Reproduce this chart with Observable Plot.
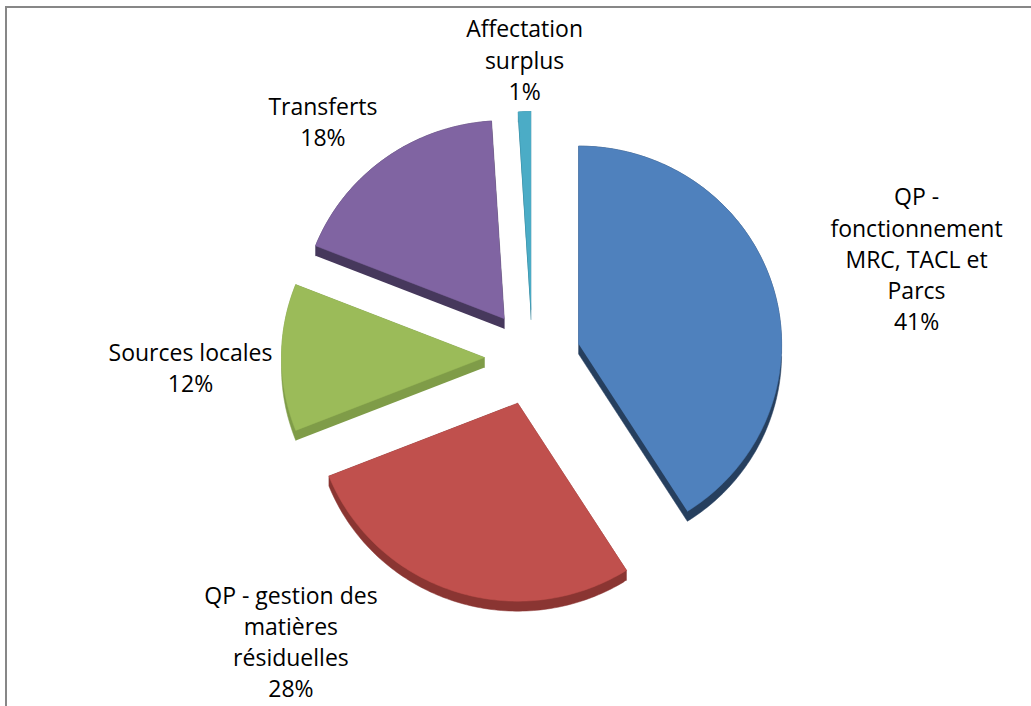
<!DOCTYPE html>
<html><head><meta charset="utf-8">
<script src="https://cdn.jsdelivr.net/npm/d3@7"></script>
<script src="https://cdn.jsdelivr.net/npm/@observablehq/plot@0.6"></script>
<style>
html,body{margin:0;padding:0;background:#fff;overflow:hidden;width:1031px;height:706px}
#frame{position:absolute;left:5px;top:6px;width:1100px;height:800px;border-left:2px solid #878787;border-top:2px solid #878787;box-sizing:border-box}
#chart{position:absolute;left:0;top:0}
</style></head><body>
<div id="frame"></div>
<div id="chart"></div>
<script>
// ---- data ----
const categories = ["QP - fonctionnement MRC, TACL et Parcs", "QP - gestion des matières résiduelles", "Sources locales", "Transferts", "Affectation surplus"];
const labelText = ["QP -\nfonctionnement\nMRC, TACL et\nParcs", "QP - gestion des\nmatières\nrésiduelles", "Sources locales", "Transferts", "Affectation\nsurplus"];
const values = [41, 28, 12, 18, 1];
const percentLabels = ["41%", "28%", "12%", "18%", "1%"];

// ---- style / layout ----
const topColors  = ["#4F81BD", "#C0504D", "#9BBB59", "#8064A2", "#4BACC6"];
const sideColors = ["#263F5E", "#8A3532", "#7F9C48", "#46385C", "#2E7F95"];
const cx = 532, cy = 357, rx = 203, ry = 198, explode = 48, depth = 10;
const labelNudge = [[143, -31], [-164, 49], [-91, 9], [-62, -38], [0, -53]];

const total = d3.sum(values);
let acc = 0;
const slices = values.map((v, i) => {
  const a0 = acc / total * 2 * Math.PI; acc += v;
  const a1 = acc / total * 2 * Math.PI;
  const m = (a0 + a1) / 2;
  return {i, a0, a1, m, ox: cx + explode * Math.sin(m), oy: cy - explode * Math.cos(m)};
});

const topRows = [], sideRows = [], labelRows = [];
for (const s of slices) {
  const n = Math.max(4, Math.ceil((s.a1 - s.a0) / (Math.PI / 180)));
  const pts = [[s.ox, s.oy]];
  for (let k = 0; k <= n; k++) {
    const a = s.a0 + (s.a1 - s.a0) * k / n;
    pts.push([s.ox + rx * Math.sin(a), s.oy - ry * Math.cos(a)]);
  }
  const hull = d3.polygonHull(pts.concat(pts.map(([x, y]) => [x, y + depth])));
  hull.forEach(([x, y]) => sideRows.push({slice: categories[s.i], x, y, fill: sideColors[s.i]}));
  pts.forEach(([x, y]) => topRows.push({slice: categories[s.i], x, y, fill: topColors[s.i]}));
  const outX = s.ox + rx * Math.sin(s.m), outY = s.oy - ry * Math.cos(s.m);
  labelRows.push({
    x: outX + labelNudge[s.i][0], y: outY + labelNudge[s.i][1],
    text: labelText[s.i] + "\n" + percentLabels[s.i]
  });
}

const chart = Plot.plot({
  width: 1031, height: 706, margin: 0,
  x: {domain: [0, 1031], range: [0, 1031], axis: null},
  y: {domain: [0, 706], range: [0, 706], axis: null},
  color: {type: "identity"},
  style: {background: "transparent", fontFamily: "'Open Sans', sans-serif", overflow: "visible"},
  marks: [
    Plot.line(sideRows, {x: "x", y: "y", z: "slice", fill: "fill", stroke: "fill", strokeWidth: 0.5}),
    Plot.line(topRows, {x: "x", y: "y", z: "slice", fill: "fill", stroke: "fill", strokeWidth: 0.5}),
    Plot.text(labelRows, {x: "x", y: "y", text: "text", fontSize: 23, lineHeight: 1.36, fill: "#000", fontFamily: "'Open Sans', sans-serif", textAnchor: "middle"})
  ]
});
document.getElementById("chart").appendChild(chart);
</script>
</body></html>
